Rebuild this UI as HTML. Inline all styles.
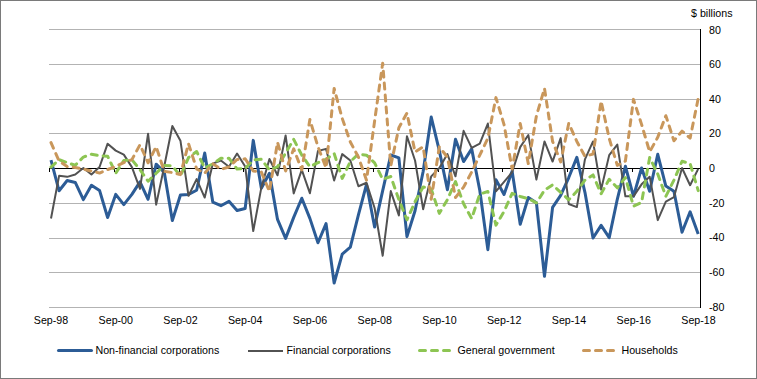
<!DOCTYPE html>
<html><head><meta charset="utf-8">
<style>
html,body{margin:0;padding:0;background:#fff;}
#f{position:relative;width:757px;height:379px;overflow:hidden;background:#fff;}
#bd{position:absolute;left:0;top:0;width:755px;height:377px;border:1px solid #7a7a7a;}
svg{position:absolute;left:0;top:0;}
.t{position:absolute;font-family:"Liberation Sans",sans-serif;font-size:10.67px;line-height:12px;color:#000;white-space:nowrap;}
.c{width:60px;text-align:center;}
</style></head><body><div id="f">
<svg width="757" height="379" viewBox="0 0 757 379">
<g stroke="#b3b3b3" stroke-width="1" shape-rendering="crispEdges"><line x1="49" y1="29.5" x2="700" y2="29.5"/><line x1="49" y1="64.5" x2="700" y2="64.5"/><line x1="49" y1="99.5" x2="700" y2="99.5"/><line x1="49" y1="133.5" x2="700" y2="133.5"/><line x1="49" y1="203.5" x2="700" y2="203.5"/><line x1="49" y1="238.5" x2="700" y2="238.5"/><line x1="49" y1="272.5" x2="700" y2="272.5"/><line x1="49" y1="307.5" x2="700" y2="307.5"/></g>
<g stroke="#000" stroke-width="1" shape-rendering="crispEdges">
<line x1="49" y1="168.5" x2="700" y2="168.5"/>
<line x1="700.5" y1="29" x2="700.5" y2="308"/>
<line x1="49.5" y1="168" x2="49.5" y2="172"/><line x1="114.5" y1="168" x2="114.5" y2="172"/><line x1="179.5" y1="168" x2="179.5" y2="172"/><line x1="243.5" y1="168" x2="243.5" y2="172"/><line x1="308.5" y1="168" x2="308.5" y2="172"/><line x1="373.5" y1="168" x2="373.5" y2="172"/><line x1="438.5" y1="168" x2="438.5" y2="172"/><line x1="502.5" y1="168" x2="502.5" y2="172"/><line x1="567.5" y1="168" x2="567.5" y2="172"/><line x1="632.5" y1="168" x2="632.5" y2="172"/><line x1="697.5" y1="168" x2="697.5" y2="172"/>
</g>
<g fill="none" stroke-linejoin="round">
<polyline points="51.00,160.01 59.09,190.76 67.18,180.51 75.27,182.42 83.36,199.62 91.45,185.20 99.54,190.41 107.63,217.52 115.72,194.41 123.81,204.66 131.90,194.41 139.99,181.90 148.08,199.28 156.17,164.18 164.26,172.34 172.35,220.47 180.44,194.93 188.53,194.41 196.62,190.24 204.71,153.06 212.80,202.06 220.89,205.70 228.98,201.36 237.07,210.57 245.16,208.48 253.25,140.37 261.34,188.33 269.43,173.21 277.52,219.43 285.61,238.37 293.70,217.34 301.79,198.23 309.88,218.39 317.97,242.71 326.06,223.60 334.15,283.02 342.24,254.18 350.33,247.23 358.42,214.91 366.51,184.33 374.60,227.07 382.69,190.59 390.78,154.97 398.87,157.92 406.96,236.63 415.05,210.74 423.14,171.47 431.23,117.09 439.32,150.62 447.41,189.72 455.50,139.33 463.59,161.57 471.68,148.89 479.77,190.24 487.86,249.66 495.95,179.64 504.04,194.41 512.13,171.13 520.22,224.30 528.31,197.54 536.40,202.75 544.49,276.25 552.58,207.44 560.67,195.45 568.76,177.56 576.85,157.40 584.94,192.32 593.03,238.02 601.12,225.34 609.21,237.67 617.30,199.28 625.39,166.26 633.48,196.32 641.57,168.00 649.66,191.28 657.75,154.27 665.84,186.07 673.93,191.28 682.02,232.29 690.11,211.78 698.20,234.03" stroke="#2c5c96" stroke-width="3"/>
<polyline points="51.00,218.56 59.09,175.82 67.18,176.86 75.27,174.43 83.36,168.00 91.45,174.43 99.54,166.96 107.63,143.68 115.72,150.62 123.81,154.62 131.90,167.13 139.99,188.85 148.08,133.77 156.17,204.66 164.26,166.26 172.35,125.95 180.44,140.72 188.53,195.80 196.62,179.12 204.71,197.54 212.80,163.66 220.89,160.53 228.98,166.78 237.07,153.58 245.16,166.44 253.25,231.07 261.34,187.63 269.43,158.97 277.52,175.30 285.61,135.51 293.70,193.37 301.79,169.91 309.88,193.19 317.97,150.97 326.06,148.89 334.15,180.51 342.24,154.10 350.33,160.53 358.42,186.24 366.51,182.77 374.60,207.96 382.69,255.74 390.78,191.11 398.87,215.43 406.96,136.20 415.05,160.53 423.14,209.18 431.23,176.34 439.32,168.00 447.41,154.10 455.50,176.34 463.59,130.82 471.68,147.84 479.77,143.68 487.86,123.52 495.95,191.28 504.04,181.90 512.13,172.17 520.22,147.15 528.31,134.99 536.40,179.64 544.49,141.42 552.58,161.57 560.67,138.12 568.76,203.97 576.85,207.09 584.94,159.31 593.03,141.42 601.12,189.55 609.21,155.14 617.30,144.54 625.39,196.32 633.48,196.32 641.57,184.33 649.66,176.69 657.75,220.12 665.84,201.53 673.93,197.19 682.02,168.00 690.11,185.20 698.20,168.87" stroke="#525252" stroke-width="2"/>
<polyline points="51.00,167.13 59.09,159.66 67.18,162.61 75.27,165.22 83.36,157.05 91.45,154.27 99.54,155.66 107.63,156.19 115.72,173.21 123.81,160.53 131.90,159.66 139.99,169.74 148.08,181.21 156.17,173.21 164.26,165.39 172.35,165.91 180.44,175.99 188.53,157.57 196.62,151.49 204.71,168.00 212.80,163.83 220.89,158.27 228.98,158.27 237.07,169.04 245.16,168.52 253.25,160.01 261.34,159.31 269.43,169.91 277.52,166.78 285.61,153.06 293.70,139.33 301.79,155.14 309.88,166.78 317.97,162.61 326.06,159.31 334.15,153.58 342.24,178.43 350.33,161.57 358.42,154.10 366.51,155.14 374.60,162.79 382.69,179.29 390.78,176.51 398.87,199.62 406.96,219.78 415.05,201.71 423.14,186.94 431.23,189.02 439.32,213.35 447.41,199.62 455.50,181.55 463.59,203.79 471.68,218.56 479.77,194.06 487.86,191.46 495.95,225.16 504.04,211.44 512.13,193.37 520.22,196.50 528.31,198.58 536.40,202.92 544.49,190.24 552.58,184.85 560.67,192.32 568.76,199.80 576.85,191.28 584.94,180.16 593.03,174.95 601.12,193.72 609.21,179.29 617.30,187.81 625.39,177.56 633.48,206.22 641.57,202.40 649.66,157.57 657.75,174.08 665.84,196.32 673.93,180.16 682.02,161.22 690.11,163.66 698.20,190.59" stroke="#8dc553" stroke-width="3" stroke-dasharray="6 6" stroke-linecap="round"/>
<polyline points="51.00,142.63 59.09,161.05 67.18,166.61 75.27,167.48 83.36,169.04 91.45,171.13 99.54,173.04 107.63,169.56 115.72,166.44 123.81,162.61 131.90,159.66 139.99,144.72 148.08,162.79 156.17,146.63 164.26,171.47 172.35,172.52 180.44,174.60 188.53,143.68 196.62,168.87 204.71,173.21 212.80,163.66 220.89,169.39 228.98,166.96 237.07,159.49 245.16,158.79 253.25,170.95 261.34,172.00 269.43,191.46 277.52,142.28 285.61,170.95 293.70,148.89 301.79,169.91 309.88,119.52 317.97,146.80 326.06,167.83 334.15,88.42 342.24,118.48 350.33,141.94 358.42,157.05 366.51,180.16 374.60,121.09 382.69,63.23 390.78,165.74 398.87,127.69 406.96,113.09 415.05,152.01 423.14,146.80 431.23,199.28 439.32,146.80 447.41,157.23 455.50,197.54 463.59,187.11 471.68,172.00 479.77,155.14 487.86,138.29 495.95,97.63 504.04,124.56 512.13,169.04 520.22,123.52 528.31,163.66 536.40,115.88 544.49,88.42 552.58,141.42 560.67,161.92 568.76,123.35 576.85,141.42 584.94,156.19 593.03,154.10 601.12,101.11 609.21,138.46 617.30,165.39 625.39,161.05 633.48,99.37 641.57,124.39 649.66,151.84 657.75,137.25 665.84,115.70 673.93,140.72 682.02,131.16 690.11,138.12 698.20,98.50" stroke="#c9975b" stroke-width="3" stroke-dasharray="6 6" stroke-linecap="round"/>
</g>
<g fill="none" stroke-linecap="round">
<line x1="58.5" y1="350.5" x2="91.5" y2="350.5" stroke="#2c5c96" stroke-width="3"/>
<line x1="248" y1="351" x2="283" y2="351" stroke="#525252" stroke-width="2" stroke-linecap="butt"/>
<line x1="419.5" y1="350.5" x2="449.5" y2="350.5" stroke="#8dc553" stroke-width="3" stroke-dasharray="6 6"/>
<line x1="583.5" y1="350.5" x2="613.5" y2="350.5" stroke="#c9975b" stroke-width="3" stroke-dasharray="6 6"/>
</g>
</svg>
<div class="t" style="left:709px;top:24px">80</div><div class="t" style="left:709px;top:58px">60</div><div class="t" style="left:709px;top:93px">40</div><div class="t" style="left:709px;top:127px">20</div><div class="t" style="left:709px;top:162px">0</div><div class="t" style="left:709px;top:197px">-20</div><div class="t" style="left:709px;top:231px">-40</div><div class="t" style="left:709px;top:266px">-60</div><div class="t" style="left:709px;top:301px">-80</div>
<div class="t c" style="left:21.0px;top:314px">Sep-98</div><div class="t c" style="left:85.8px;top:314px">Sep-00</div><div class="t c" style="left:150.5px;top:314px">Sep-02</div><div class="t c" style="left:215.2px;top:314px">Sep-04</div><div class="t c" style="left:280.0px;top:314px">Sep-06</div><div class="t c" style="left:344.8px;top:314px">Sep-08</div><div class="t c" style="left:409.5px;top:314px">Sep-10</div><div class="t c" style="left:474.2px;top:314px">Sep-12</div><div class="t c" style="left:539.0px;top:314px">Sep-14</div><div class="t c" style="left:603.8px;top:314px">Sep-16</div><div class="t c" style="left:668.5px;top:314px">Sep-18</div>
<div class="t" style="left:691px;top:7px">$ billions</div>
<div id="bd"></div>
<div class="t" style="left:95.5px;top:344px">Non-financial corporations</div>
<div class="t" style="left:286.5px;top:344px">Financial corporations</div>
<div class="t" style="left:457.5px;top:344px">General government</div>
<div class="t" style="left:621.5px;top:344px">Households</div>
</div></body></html>
